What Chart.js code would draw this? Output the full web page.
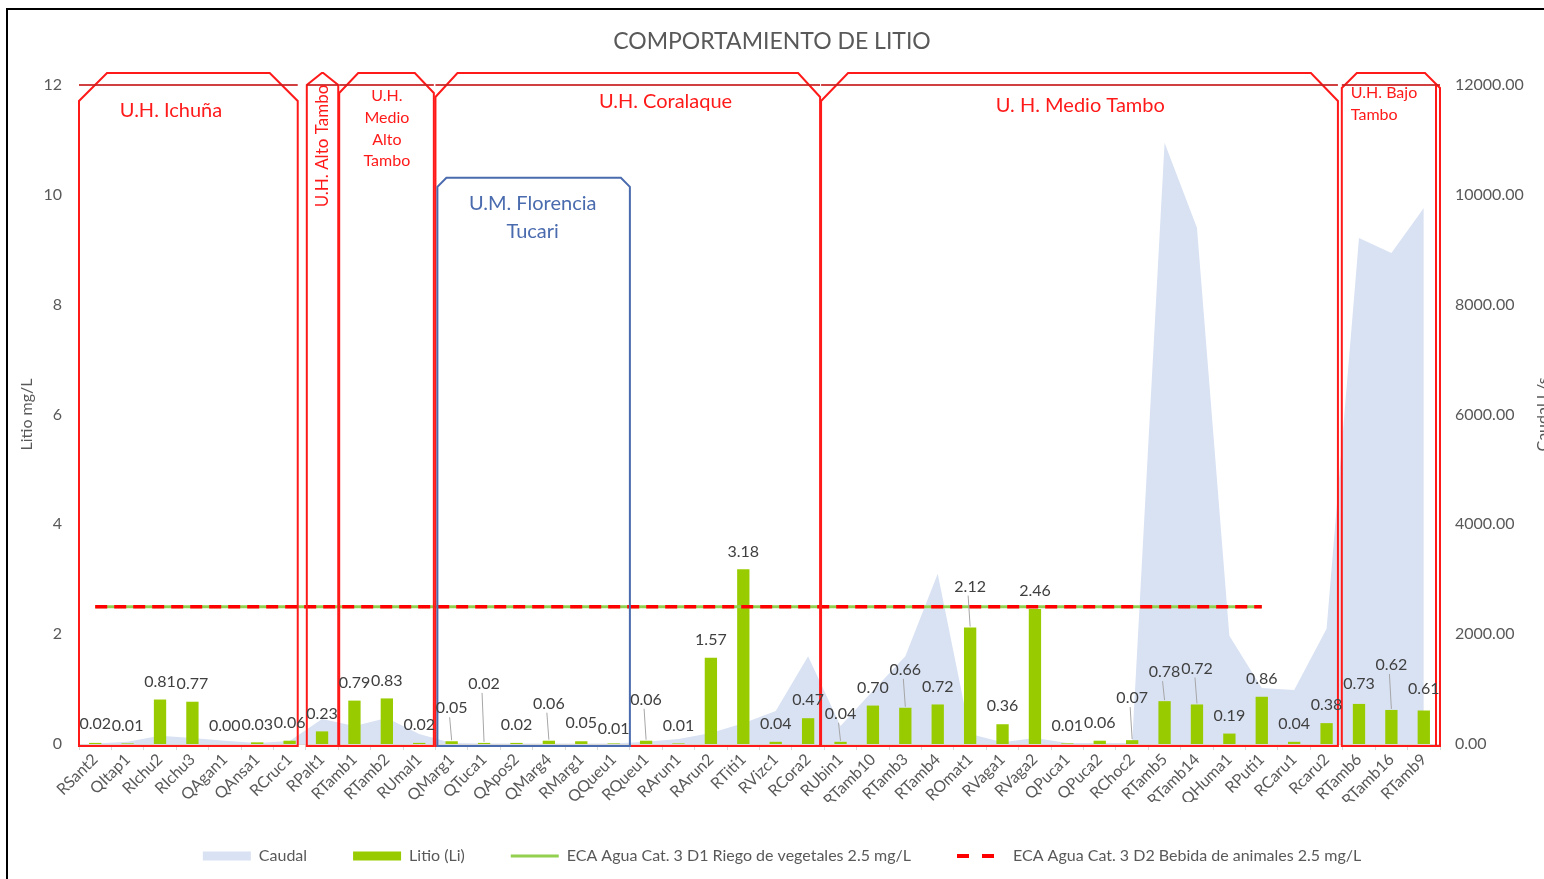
<!DOCTYPE html>
<html>
<head>
<meta charset="utf-8">
<title>Comportamiento de Litio</title>
<script src="https://cdn.jsdelivr.net/npm/chart.js@4/dist/chart.umd.min.js"></script>
<style>
  html, body { margin: 0; padding: 0; background: #fff; overflow: hidden; }
  #wrap { position: relative; width: 1544px; height: 879px; }
  #marco { position: absolute; left: 6px; top: 8px; width: 1700px; height: 1000px;
           border-left: 2px solid #000; border-top: 2px solid #000; pointer-events: none; }
  canvas { position: absolute; left: 0; top: 0; }
</style>
</head>
<body>
<div id="wrap">
  <canvas id="litio" width="1544" height="879"></canvas>
  <div id="marco"></div>
</div>
<script>
const estaciones = ['RSant2','QItap1','RIchu2','RIchu3','QAgan1','QAnsa1','RCruc1','RPalt1','RTamb1','RTamb2',
  'RUmal1','QMarg1','QTuca1','QApos2','QMarg4','RMarg1','QQueu1','RQueu1','RArun1','RArun2','RTiti1','RVizc1',
  'RCora2','RUbin1','RTamb10','RTamb3','RTamb4','ROmat1','RVaga1','RVaga2','QPuca1','QPuca2','RChoc2','RTamb5',
  'RTamb14','QHuma1','RPuti1','RCaru1','Rcaru2','RTamb6','RTamb16','RTamb9']

// Litio (Li) mg/L
const litio = [0.02,0.01,0.81,0.77,0.00,0.03,0.06,0.23,0.79,0.83,
  0.02,0.05,0.02,0.02,0.06,0.05,0.01,0.06,0.01,1.57,3.18,0.04,
  0.47,0.04,0.70,0.66,0.72,2.12,0.36,2.46,0.01,0.06,0.07,0.78,
  0.72,0.19,0.86,0.04,0.38,0.73,0.62,0.61]

// Caudal L/s
const caudal = [10,40,150,110,60,20,55,455,330,475,
  180,20,10,10,10,10,10,40,90,200,380,600,
  1600,330,970,1600,3100,180,30,110,20,20,20,10950,
  9400,1970,1020,985,2100,9215,8940,9760]

// ECA Cat. 3 (D1 riego y D2 bebida), 2.5 mg/L hasta RPuti1
const ecaRiego = [2.5,2.5,2.5,2.5,2.5,2.5,2.5,2.5,2.5,2.5,2.5,2.5,2.5,2.5,2.5,2.5,2.5,2.5,2.5,2.5,2.5,
  2.5,2.5,2.5,2.5,2.5,2.5,2.5,2.5,2.5,2.5,2.5,2.5,2.5,2.5,2.5,2.5,null,null,null,null,null]
const ecaBebida = [2.5,2.5,2.5,2.5,2.5,2.5,2.5,2.5,2.5,2.5,2.5,2.5,2.5,2.5,2.5,2.5,2.5,2.5,2.5,2.5,2.5,
  2.5,2.5,2.5,2.5,2.5,2.5,2.5,2.5,2.5,2.5,2.5,2.5,2.5,2.5,2.5,2.5,null,null,null,null,null]

// unidades hidrográficas: límites en índice de estación
const zonas = [
  { texto: ['U.H. Ichuña'], desde: -0.5, hasta: 6.25, c: 28, d: 16, tx: 2.34, ty: [26], font: 20 },
  { texto: ['U.H. Alto Tambo'], desde: 6.53, hasta: 7.5, c: 15, d: 0, vertical: true, ty: [61], font: 17 },
  { texto: ['U.H.', 'Medio', 'Alto', 'Tambo'], desde: 7.53, hasta: 10.45, c: 19, d: 8, tx: 9, ty: [11, 33, 55, 76], font: 16 },
  { texto: ['U.H. Coralaque'], desde: 10.5, hasta: 22.37, c: 22, d: 12, tx: 17.6, ty: [17], font: 20 },
  { texto: ['U. H. Medio Tambo'], desde: 22.4, hasta: 38.35, c: 27, d: 16, tx: 30.4, ty: [21], font: 20 },
  { texto: ['U.H. Bajo', 'Tambo'], desde: 38.47, hasta: 41.5, c: 15, d: 3, tx: 38.63, ty: [8, 30], font: 16, izq: true, doble: true }
]
const subZona = { texto: ['U.M. Florencia', 'Tucari'], desde: 10.56, hasta: 16.5, tope: 10.31, tx: 13.5, ty: [26, 54], font: 20 }

// desplazamiento vertical extra de algunas etiquetas (con línea guía)
const subeEtiqueta = { 0: 1, 11: 15, 12: 41, 14: 19, 16: -3, 17: 23, 23: 10, 25: 20, 27: 23, 32: 24, 33: 11, 34: 18, 39: 2, 40: 27, 41: 4 }

const ROJO = '#FF1A1A'
const AZUL = '#4A6BAE'
const GRIS = '#595959'

// muestra de la leyenda para la línea discontinua
function muestraDiscontinua() {
  const c = document.createElement('canvas')
  c.width = 48
  c.height = 4
  const g = c.getContext('2d')
  g.fillStyle = '#FF0000'
  g.fillRect(0, 0, 12, 4)
  g.fillRect(25, 0, 12, 4)
  return c
}

const zonasPlugin = {
  id: 'zonas',
  afterDatasetsDraw(chart) {
    const { ctx } = chart
    const x = chart.scales.x, y = chart.scales.y
    const top = y.getPixelForValue(12), bottom = y.getPixelForValue(0) + 2
    ctx.save()
    ctx.lineJoin = 'miter'
    zonas.forEach(z => {
      const l = x.getPixelForValue(z.desde), r = x.getPixelForValue(z.hasta)
      const c = Math.min(z.c, (r - l) / 2)
      ctx.strokeStyle = ROJO
      ctx.lineWidth = 2
      ctx.beginPath()
      ctx.moveTo(l, bottom)
      ctx.lineTo(l, top + z.d)
      ctx.lineTo(l + c, top - 12)
      ctx.lineTo(r - c, top - 12)
      ctx.lineTo(r, top + z.d)
      ctx.lineTo(r, bottom)
      ctx.closePath()
      ctx.stroke()
      ctx.strokeStyle = 'rgba(200,30,30,0.85)'
      ctx.beginPath()
      ctx.moveTo(l, top)
      ctx.lineTo(r, top)
      ctx.stroke()
      if (z.doble) {
        ctx.strokeStyle = ROJO
        ctx.beginPath()
        ctx.moveTo(r - 4, top)
        ctx.lineTo(r - 4, bottom)
        ctx.stroke()
      }
      ctx.fillStyle = ROJO
      ctx.font = z.font + 'px Lato'
      ctx.textBaseline = 'middle'
      if (z.vertical) {
        ctx.save()
        ctx.translate((l + r) / 2, top + z.ty[0])
        ctx.rotate(-Math.PI / 2)
        ctx.textAlign = 'center'
        ctx.fillText(z.texto[0], 0, 0)
        ctx.restore()
      } else {
        ctx.textAlign = z.izq ? 'left' : 'center'
        const px = z.izq ? l + 9 : x.getPixelForValue(z.tx)
        z.texto.forEach((t, i) => ctx.fillText(t, px, top + z.ty[i]))
      }
    })

    // U.M. Florencia Tucari
    const s = subZona
    const l = x.getPixelForValue(s.desde), r = x.getPixelForValue(s.hasta)
    const t = y.getPixelForValue(s.tope)
    ctx.strokeStyle = AZUL
    ctx.lineWidth = 2
    ctx.beginPath()
    ctx.moveTo(l, bottom)
    ctx.lineTo(l, t + 9)
    ctx.lineTo(l + 9, t)
    ctx.lineTo(r - 9, t)
    ctx.lineTo(r, t + 9)
    ctx.lineTo(r, bottom)
    ctx.closePath()
    ctx.stroke()
    ctx.fillStyle = AZUL
    ctx.font = s.font + 'px Lato'
    ctx.textAlign = 'center'
    s.texto.forEach((txt, i) => ctx.fillText(txt, x.getPixelForValue(s.tx), t + s.ty[i]))

    // título del eje derecho
    const y1 = chart.scales.y1
    ctx.fillStyle = GRIS
    ctx.font = '16px Lato'
    ctx.save()
    ctx.translate(1543, (y1.top + y1.bottom) / 2)
    ctx.rotate(-Math.PI / 2)
    ctx.fillText('Caudal L/s', 0, 0)
    ctx.restore()
    ctx.restore()
  }
}

const etiquetasPlugin = {
  id: 'etiquetas',
  afterDraw(chart) {
    const { ctx } = chart
    const meta = chart.getDatasetMeta(1)
    ctx.save()
    ctx.font = '16px Lato'
    ctx.textAlign = 'center'
    ctx.textBaseline = 'middle'
    meta.data.forEach((bar, i) => {
      const extra = subeEtiqueta[i] || 0
      const ly = bar.y - 18 - extra
      if (extra >= 10) {
        ctx.strokeStyle = '#A6A6A6'
        ctx.lineWidth = 1
        ctx.beginPath()
        ctx.moveTo(bar.x, bar.y - 1)
        ctx.lineTo(bar.x - 2, ly + 9)
        ctx.stroke()
      }
      ctx.fillStyle = '#404040'
      ctx.fillText(litio[i].toFixed(2), bar.x, ly)
    })
    ctx.restore()
  }
}

// la leyenda queda un poco a la derecha del centro
const leyendaPlugin = {
  id: 'leyendaDesplazada',
  afterLayout(chart) {
    chart.legend.left += 10
    chart.legend.right += 10
  }
}

new Chart(document.getElementById('litio'), {
  data: {
    labels: estaciones,
    datasets: [
      {
        type: 'line', label: 'Caudal', data: caudal, yAxisID: 'y1', order: 4,
        fill: 'origin', backgroundColor: '#D9E2F3', borderWidth: 0, pointRadius: 0,
        tension: 0, pointStyle: 'rect'
      },
      {
        type: 'bar', label: 'Litio (Li)', data: litio, yAxisID: 'y', order: 3,
        backgroundColor: '#99CC00', categoryPercentage: 1, barPercentage: 0.38, pointStyle: 'rect'
      },
      {
        type: 'line', label: 'ECA Agua Cat. 3 D1 Riego de vegetales 2.5 mg/L', data: ecaRiego, yAxisID: 'y',
        order: 2, borderColor: '#92D050', backgroundColor: '#92D050', borderWidth: 3, pointRadius: 0,
        fill: false, pointStyle: 'line'
      },
      {
        type: 'line', label: 'ECA Agua Cat. 3 D2 Bebida de animales 2.5 mg/L', data: ecaBebida, yAxisID: 'y',
        order: 1, borderColor: '#FF0000', backgroundColor: '#FF0000', borderWidth: 3.5, borderDash: [12, 7],
        pointRadius: 0, fill: false, pointStyle: muestraDiscontinua()
      }
    ]
  },
  options: {
    responsive: false,
    animation: false,
    layout: { padding: { bottom: 5 } },
    plugins: {
      title: {
        display: true, text: 'COMPORTAMIENTO DE LITIO', color: GRIS,
        font: { family: 'Lato', size: 23, weight: 'normal', lineHeight: 1.1 },
        padding: { top: 28.5, bottom: 31.2 }
      },
      legend: {
        position: 'bottom', maxHeight: 83,
        labels: {
          usePointStyle: true, pointStyleWidth: 48, boxHeight: 9, padding: 46,
          color: GRIS, font: { family: 'Lato', size: 16 },
          sort: (a, b) => a.datasetIndex - b.datasetIndex
        }
      },
      tooltip: { enabled: false }
    },
    scales: {
      x: {
        afterFit: s => { s.height = 58 },
        grid: { drawOnChartArea: false, offset: true, tickLength: 6, color: '#D9D9D9' },
        border: { color: '#D9D9D9' },
        ticks: { autoSkip: false, minRotation: 45, maxRotation: 45, padding: 0, color: GRIS,
                 font: { family: 'Lato', size: 16 } }
      },
      y: {
        position: 'left', min: 0, max: 12,
        afterFit: s => { s.width = 79 },
        grid: { display: false, drawTicks: false },
        border: { display: false },
        ticks: { stepSize: 2, padding: 17, color: GRIS, font: { family: 'Lato', size: 16 } },
        title: { display: true, text: 'Litio mg/L', color: GRIS, font: { family: 'Lato', size: 16 },
                 padding: { top: 17, bottom: 0 } }
      },
      y1: {
        position: 'right', min: 0, max: 12000,
        afterFit: s => { s.width = 104 },
        grid: { display: false, drawTicks: false },
        border: { display: false },
        ticks: { stepSize: 2000, padding: 15, color: GRIS, font: { family: 'Lato', size: 16 },
                 callback: v => v.toFixed(2) }
      }
    }
  },
  plugins: [zonasPlugin, etiquetasPlugin, leyendaPlugin]
})
</script>
</body>
</html>
